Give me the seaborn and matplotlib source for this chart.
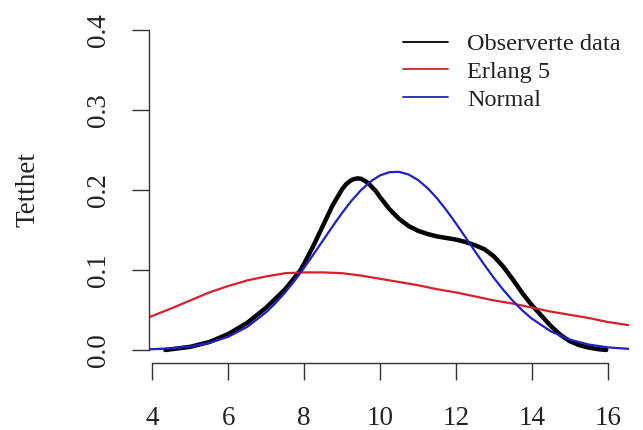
import matplotlib
matplotlib.use("Agg")
import matplotlib.pyplot as plt
from matplotlib.lines import Line2D
import seaborn as sns
import pandas as pd

# Observed density (kernel estimate of the sample)
obs_x = [4.34, 5.0, 5.5, 6.0, 6.5, 7.0, 7.5, 7.89, 8.0, 8.25, 8.5, 8.75, 9.0, 9.1,
         9.2, 9.3, 9.4, 9.5, 9.6, 9.7, 9.8, 9.9, 10.0, 10.25, 10.5, 10.75, 11.0,
         11.25, 11.5, 11.75, 12.0, 12.25, 12.5, 12.75, 13.0, 13.25, 13.5, 13.75,
         14.0, 14.25, 14.5, 14.75, 15.0, 15.25, 15.5, 15.75, 15.96]
obs_y = [0.000, 0.004, 0.010, 0.020, 0.034, 0.053, 0.076, 0.099, 0.108, 0.131,
         0.156, 0.181, 0.201, 0.207, 0.211, 0.2135, 0.2145, 0.2140, 0.2115, 0.208,
         0.203, 0.198, 0.191, 0.176, 0.164, 0.155, 0.149, 0.145, 0.142, 0.140,
         0.138, 0.135, 0.131, 0.126, 0.117, 0.104, 0.088, 0.071, 0.056, 0.043,
         0.030, 0.019, 0.011, 0.006, 0.003, 0.001, 0.000]

# Erlang(5) density
erl_x = [3.91, 4.5, 5.0, 5.5, 6.0, 6.5, 7.0, 7.5, 8.0, 8.5, 9.0, 9.5, 10.0, 10.5,
         11.0, 11.5, 12.0, 12.5, 13.0, 13.5, 14.0, 14.5, 15.0, 15.5, 16.0, 16.56]
erl_y = [0.041, 0.052, 0.062, 0.072, 0.080, 0.087, 0.092, 0.096, 0.097, 0.097,
         0.096, 0.093, 0.089, 0.085, 0.081, 0.076, 0.072, 0.067, 0.062, 0.058,
         0.053, 0.048, 0.044, 0.040, 0.035, 0.031]

# Normal density
nor_x = [3.91, 4.5, 5.0, 5.5, 6.0, 6.5, 7.0, 7.25, 7.5, 7.75, 8.0, 8.25, 8.5, 8.75,
         9.0, 9.25, 9.5, 9.75, 10.0, 10.25, 10.5, 10.75, 11.0, 11.25, 11.5, 11.75,
         12.0, 12.25, 12.5, 12.75, 13.0, 13.25, 13.5, 13.75, 14.0, 14.5, 15.0,
         15.5, 16.0, 16.56]
nor_y = [0.0008, 0.0021, 0.0044, 0.0089, 0.0166, 0.0289, 0.0473, 0.0589, 0.0721,
         0.0869, 0.1029, 0.1199, 0.1373, 0.1547, 0.1714, 0.1867, 0.2000, 0.2107,
         0.2183, 0.2223, 0.2227, 0.2194, 0.2125, 0.2024, 0.1896, 0.1746, 0.1582,
         0.1409, 0.1234, 0.1063, 0.0900, 0.0750, 0.0614, 0.0494, 0.0392, 0.0233,
         0.0130, 0.0068, 0.0033, 0.0014]

series_labels = ["Observerte data", "Erlang 5", "Normal"]
series_colors = ["#000000", "#d8202c", "#2020c8"]
x_ticks = [4, 6, 8, 10, 12, 14, 16]
y_ticks = [0.0, 0.1, 0.2, 0.3, 0.4]
y_label = "Tetthet"

sns.set_style("ticks")
plt.rcParams["font.family"] = ["Liberation Serif", "DejaVu Serif"]

W, H = 643, 430
fig = plt.figure(figsize=(W / 100, H / 100), dpi=100)
left, right, top, bottom = 149, 629, 17.2, 362.8
ax = fig.add_axes([left / W, 1 - bottom / H, (right - left) / W, (bottom - top) / H])

obs = pd.DataFrame({"x": obs_x, "y": obs_y})
erl = pd.DataFrame({"x": erl_x, "y": erl_y})
nor = pd.DataFrame({"x": nor_x, "y": nor_y})

sns.lineplot(data=obs, x="x", y="y", color=series_colors[0], linewidth=3.2, ax=ax)
sns.lineplot(data=erl, x="x", y="y", color=series_colors[1], linewidth=1.6, ax=ax)
sns.lineplot(data=nor, x="x", y="y", color=series_colors[2], linewidth=1.6, ax=ax)

ax.set_xlim(3.91, 16.56)
ax.set_ylim(-0.016, 0.416)
ax.set_xticks(x_ticks)
ax.set_xticklabels([str(t) for t in x_ticks])
ax.set_yticks(y_ticks)
ax.set_yticklabels([f"{t:.1f}" for t in y_ticks], rotation=90, va="center")

for side in ("top", "right"):
    ax.spines[side].set_visible(False)
ax.spines["left"].set_bounds(0, 0.4)
ax.spines["bottom"].set_bounds(4, 16)
for side in ("left", "bottom"):
    ax.spines[side].set_color("#333333")
    ax.spines[side].set_linewidth(1.0)

ax.tick_params(axis="both", direction="out", length=12, width=1.0,
               color="#333333", labelsize=19.5, labelcolor="#222222", pad=15)
ax.tick_params(axis="x", pad=19)
ax.set_xlabel("")
ax.set_ylabel(y_label, fontsize=19.5, color="#222222", labelpad=33)

handles = [Line2D([], [], color=c, linewidth=1.3) for c in series_colors]
fig.legend(handles, series_labels, loc="upper left",
           bbox_to_anchor=(403 / W, 1 - 33 / H), frameon=False,
           fontsize=17.5, handlelength=1.85, handletextpad=0.8,
           labelspacing=0.24, borderpad=0, borderaxespad=0)
for t in fig.legends[0].get_texts():
    t.set_color("#222222")

fig.savefig("out.png", dpi=100, facecolor="white")
